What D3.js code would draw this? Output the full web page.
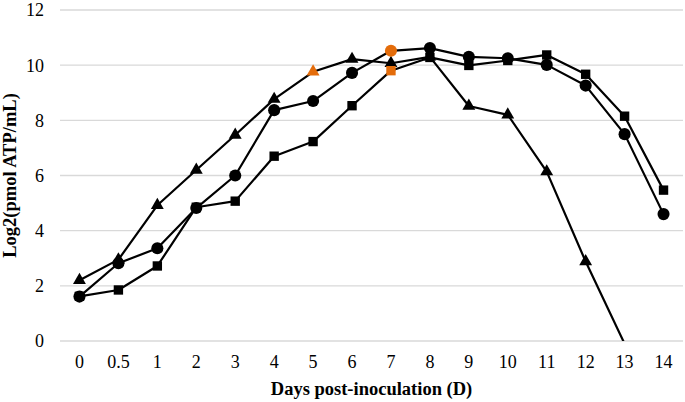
<!DOCTYPE html>
<html>
<head>
<meta charset="utf-8">
<script src="https://cdn.jsdelivr.net/npm/d3@7"></script>
<style>
  html, body { margin: 0; padding: 0; background: #fff; }
  svg { display: block; }
  text { font-family: "Liberation Serif", "Times New Roman", serif; fill: #000; }
</style>
</head>
<body>
<svg id="chart" width="685" height="402"></svg>
<script>
// ---- data ----
const days = ["0", "0.5", "1", "2", "3", "4", "5", "6", "7", "8", "9", "10", "11", "12", "13", "14"];
const yTicks = [0, 2, 4, 6, 8, 10, 12];
const triangleSeries = [2.2, 2.95, 4.92, 6.2, 7.47, 8.77, 9.76, 10.22, 10.07, 10.3, 8.52, 8.2, 6.14, 2.88, -0.1, null];
const circleSeries   = [1.61, 2.82, 3.36, 4.82, 6.0, 8.37, 8.7, 9.72, 10.52, 10.62, 10.3, 10.25, 10.01, 9.26, 7.5, 4.6];
const squareSeries   = [1.62, 1.85, 2.72, 4.85, 5.07, 6.7, 7.23, 8.53, 9.8, 10.28, 9.99, 10.17, 10.37, 9.67, 8.15, 5.47];
// highlighted (orange) points: series name -> category
const highlights = [
  { series: "triangle", day: "5" },
  { series: "circle", day: "7" },
  { series: "square", day: "7" }
];
const xTitle = "Days post-inoculation (D)";
const yTitle = "Log2(pmol ATP/mL)";

// ---- layout ----
const svg = d3.select("#chart");
const pLeft = 60, pRight = 683, pTop = 10, pBottom = 341;
const orange = "#E46C0A";
const fontSize = 18;

const x = d3.scaleBand().domain(days).range([pLeft, pRight]).paddingInner(0).paddingOuter(0);
const cx = d => x(d) + x.bandwidth() / 2;
const y = d3.scaleLinear().domain([0, 12]).range([pBottom, pTop]);

// gridlines
svg.append("g").selectAll("line").data(yTicks).join("line")
  .attr("x1", pLeft).attr("x2", pRight)
  .attr("y1", d => y(d)).attr("y2", d => y(d))
  .attr("stroke", "#d9d9d9").attr("stroke-width", 1.3);

// y axis labels
const yAxis = d3.axisLeft(y).tickValues(yTicks).tickSize(0).tickPadding(0);
const gy = svg.append("g").attr("transform", `translate(${pLeft - 16},0)`).call(yAxis);
gy.attr("font-size", null).attr("font-family", null);
gy.select(".domain").remove();
gy.selectAll("text").style("font-size", fontSize + "px").attr("fill", "#000").attr("dy", "0.33em");

// x axis labels
const xAxis = d3.axisBottom(x).tickSize(0).tickPadding(0);
const gx = svg.append("g").attr("transform", `translate(0,${pBottom})`).call(xAxis);
gx.attr("font-size", null).attr("font-family", null);
gx.select(".domain").remove();
gx.selectAll("text").style("font-size", fontSize + "px").attr("fill", "#000")
  .attr("dy", null).attr("y", 27);

// titles
svg.append("text").attr("x", (pLeft + pRight) / 2).attr("y", 395)
  .attr("text-anchor", "middle").style("font-size", "18.5px").attr("font-weight", "bold").text(xTitle);
svg.append("text").attr("transform", `translate(16,${(pTop + pBottom) / 2}) rotate(-90)`)
  .attr("text-anchor", "middle").style("font-size", "18.5px").attr("font-weight", "bold").text(yTitle);

// clip
svg.append("clipPath").attr("id", "plotclip").append("rect")
  .attr("x", pLeft).attr("y", pTop - 10).attr("width", pRight - pLeft).attr("height", pBottom - pTop + 10);

const series = [
  { name: "triangle", values: triangleSeries, symbol: d3.symbolTriangle, size: 72 },
  { name: "circle", values: circleSeries, symbol: d3.symbolCircle, size: 115 },
  { name: "square", values: squareSeries, symbol: d3.symbolSquare, size: 88 }
];

const line = d3.line()
  .defined(d => d.v !== null)
  .x(d => cx(d.day)).y(d => y(d.v));

const plot = svg.append("g").attr("clip-path", "url(#plotclip)");

series.forEach(s => {
  const pts = days.map((day, i) => ({ day, v: s.values[i] }));
  plot.append("path").datum(pts)
    .attr("d", line).attr("fill", "none")
    .attr("stroke", "#000").attr("stroke-width", 2.2).attr("stroke-linejoin", "round");
});

// markers drawn after all lines, in series order
series.forEach(s => {
  const pts = days.map((day, i) => ({ day, v: s.values[i] })).filter(d => d.v !== null && d.v >= 0);
  const sym = d3.symbol().type(s.symbol).size(s.size);
  plot.append("g").selectAll("path").data(pts).join("path")
    .attr("d", sym)
    .attr("transform", d => `translate(${cx(d.day)},${y(d.v)})`)
    .attr("fill", d => highlights.some(h => h.series === s.name && h.day === d.day) ? orange : "#000");
});
</script>
</body>
</html>
